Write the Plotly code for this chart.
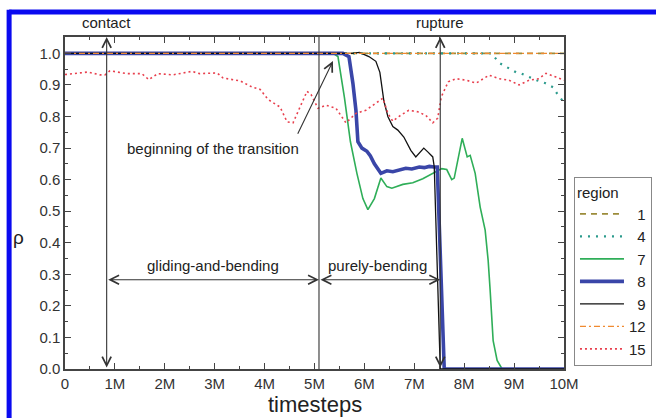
import plotly.graph_objects as go

# Timesteps in millions, order parameter rho per region
x_r1 = [0.0, 10.0]
rho_r1 = [1.0, 1.0]

x_r4 = [0.0, 8.55, 8.70, 8.88, 9.04, 9.13, 9.30, 9.45, 9.62, 9.78, 9.88, 9.96, 10.0]
rho_r4 = [1.0, 1.0, 0.970, 0.953, 0.940, 0.937, 0.925, 0.915, 0.906, 0.893, 0.868, 0.852, 0.845]

x_r7 = [0.0, 5.25, 5.37, 5.47, 5.60, 5.72, 5.85, 5.97, 6.07, 6.20, 6.33, 6.45, 6.55, 6.77,
        6.97, 7.17, 7.37, 7.55, 7.65, 7.75, 7.80, 7.96, 8.06, 8.12, 8.22, 8.32, 8.42, 8.48,
        8.52, 8.58, 8.66, 8.76, 10.0]
rho_r7 = [1.0, 1.0, 1.0, 0.99, 0.86, 0.72, 0.62, 0.54, 0.505, 0.54, 0.605, 0.578, 0.573, 0.585,
          0.59, 0.603, 0.62, 0.635, 0.632, 0.60, 0.605, 0.731, 0.672, 0.677, 0.62, 0.513, 0.44, 0.344,
          0.249, 0.09, 0.027, 0.0, 0.0]

x_r8 = [0.0, 5.50, 5.57, 5.69, 5.77, 5.83, 5.87, 5.95, 6.05, 6.12, 6.20, 6.33, 6.45, 6.57,
        6.70, 6.83, 6.95, 7.10, 7.20, 7.30, 7.40, 7.46, 7.60, 10.0]
rho_r8 = [1.0, 1.0, 1.0, 0.99, 0.905, 0.82, 0.72, 0.70, 0.69, 0.675, 0.65, 0.62, 0.628, 0.625,
          0.632, 0.636, 0.634, 0.640, 0.638, 0.642, 0.640, 0.640, 0.0, 0.0]

x_r9 = [0.0, 5.50, 5.75, 5.90, 6.09, 6.23, 6.31, 6.39, 6.47, 6.57, 6.67, 6.79, 6.93, 7.03,
        7.13, 7.19, 7.27, 7.37, 7.40, 7.52, 10.0]
rho_r9 = [1.0, 1.0, 1.0, 1.003, 0.99, 0.975, 0.94, 0.85, 0.80, 0.768, 0.757, 0.735, 0.693, 0.672,
          0.688, 0.70, 0.688, 0.672, 0.64, 0.0, 0.0]

x_r12 = [0.0, 10.0]
rho_r12 = [1.0, 1.0]

x_r15 = [0.0, 0.46, 0.70, 0.80, 0.90, 1.24, 1.54, 1.68, 1.86, 2.16, 2.54, 2.70, 3.05, 3.17,
         3.51, 3.74, 3.91, 4.07, 4.31, 4.45, 4.57, 4.71, 4.85, 4.93, 5.07, 5.23, 5.43, 5.63,
         5.83, 6.03, 6.23, 6.37, 6.47, 6.57, 6.69, 6.89, 7.07, 7.23, 7.37, 7.47, 7.54, 7.68,
         7.84, 8.04, 8.24, 8.50, 8.70, 8.90, 9.10, 9.30, 9.50, 9.64, 9.84, 10.0]
rho_r15 = [0.933, 0.941, 0.932, 0.932, 0.945, 0.936, 0.936, 0.917, 0.936, 0.932, 0.943, 0.936, 0.938, 0.922,
           0.913, 0.894, 0.886, 0.854, 0.830, 0.783, 0.780, 0.830, 0.880, 0.870, 0.826, 0.836, 0.826, 0.780,
           0.810, 0.820, 0.842, 0.858, 0.810, 0.785, 0.800, 0.820, 0.815, 0.804, 0.780, 0.795, 0.862, 0.910,
           0.920, 0.915, 0.906, 0.931, 0.920, 0.915, 0.900, 0.915, 0.920, 0.937, 0.925, 0.915]

# Tick labels
x_ticks = [0, 1, 2, 3, 4, 5, 6, 7, 8, 9, 10]
x_ticktext = ["0", "1M", "2M", "3M", "4M", "5M", "6M", "7M", "8M", "9M", "10M"]
y_ticks = [0.0, 0.1, 0.2, 0.3, 0.4, 0.5, 0.6, 0.7, 0.8, 0.9, 1.0]

# Event positions (millions of timesteps) and arrow level
t_contact = 0.835
t_transition = 5.09
t_rupture = 7.52
phase_arrow_rho = 0.283

FONT = "Arial, Liberation Sans, sans-serif"
FS = "\u2007"  # figure space, keeps legend numbers right-aligned

series = [
    ("1", x_r1, rho_r1, dict(color="#9c8c3a", width=1.6, dash="6px,5px")),
    ("4", x_r4, rho_r4, dict(color="#2a9a8c", width=2.2, dash="2px,6px")),
    ("7", x_r7, rho_r7, dict(color="#2fae58", width=1.6)),
    ("8", x_r8, rho_r8, dict(color="#3a46a8", width=3.6)),
    ("9", x_r9, rho_r9, dict(color="#111111", width=1.3)),
    ("12", x_r12, rho_r12, dict(color="#f08a30", width=1.4, dash="6px,3px,2px,3px")),
    ("15", x_r15, rho_r15, dict(color="#e8404e", width=1.6, dash="2px,3px")),
]

fig = go.Figure()
for name, xs, ys, line in series:
    label = (FS * (2 - len(name))) + name
    fig.add_trace(go.Scatter(x=xs, y=ys, mode="lines", name=label, line=line))

ARROW = "#333333"

def arrow(x0, y0, x1, y1, both=True):
    fig.add_annotation(
        x=x1, y=y1, ax=x0, ay=y0, xref="x", yref="y", axref="x", ayref="y",
        text="", showarrow=True, arrowhead=5, startarrowhead=5,
        arrowside="end+start" if both else "end",
        arrowsize=1.6, startarrowsize=1.6, arrowwidth=1.1, arrowcolor=ARROW,
    )

y_top = 1.052
arrow(t_contact, 0.0, t_contact, y_top)
arrow(t_rupture, 0.0, t_rupture, y_top)
arrow(t_contact, phase_arrow_rho, t_transition, phase_arrow_rho)
arrow(t_transition, phase_arrow_rho, t_rupture, phase_arrow_rho)
arrow(4.65, 0.741, 5.37, 0.976, both=False)

fig.add_shape(type="line", xref="x", yref="y", x0=t_transition, x1=t_transition,
              y0=0, y1=y_top, line=dict(color=ARROW, width=1.1))

def label(text, x, y, size=15, xref="x", yref="y"):
    fig.add_annotation(x=x, y=y, xref=xref, yref=yref, text=text, showarrow=False,
                       font=dict(family=FONT, size=size, color="#222222"),
                       xanchor="center", yanchor="middle")

label("contact", t_contact, 1.045, yref="paper")
label("rupture", t_rupture, 1.045, yref="paper")
label("beginning of the transition", 2.96, 0.70)
label("gliding-and-bending", 2.96, 0.328)
label("purely-bending", 6.27, 0.328)
label("timesteps", 0.5, -0.108, size=22, xref="paper", yref="paper")
label("ρ", -0.093, 0.395, size=19, xref="paper", yref="paper")

# Blue frame around the figure
BLUE = "#0a0af0"
fig.add_shape(type="line", xref="paper", yref="paper", x0=-0.112, x1=1.25,
              y0=1.075, y1=1.075, line=dict(color=BLUE, width=5))
fig.add_shape(type="line", xref="paper", yref="paper", x0=-0.112, x1=-0.112,
              y0=1.082, y1=-0.2, line=dict(color=BLUE, width=5))

axis_common = dict(
    showline=True, linecolor="#444444", linewidth=1.5, mirror="allticks",
    ticks="inside", tickcolor="#444444", ticklen=6, tickwidth=1.2,
    showgrid=False, zeroline=False,
    tickfont=dict(family=FONT, size=15, color="#333333"),
)

fig.update_xaxes(range=[0, 10], tickvals=x_ticks, ticktext=x_ticktext,
                 minor=dict(dtick=0.5, ticks="inside", ticklen=3, tickcolor="#444444", showgrid=False),
                 **axis_common)
fig.update_yaxes(range=[0, y_top], tickvals=y_ticks, tickformat=".1f",
                 minor=dict(dtick=0.05, ticks="inside", ticklen=3, tickcolor="#444444", showgrid=False),
                 **axis_common)

fig.update_layout(
    width=656, height=418,
    margin=dict(l=65, r=92, t=37, b=49, autoexpand=False),
    plot_bgcolor="white", paper_bgcolor="white",
    showlegend=True,
    legend=dict(
        title=dict(text="region", font=dict(family=FONT, size=15, color="#222222")),
        x=1.02, y=0.578, xanchor="left", yanchor="top",
        bordercolor="#888888", borderwidth=1, bgcolor="white",
        font=dict(family=FONT, size=15, color="#222222"),
        itemwidth=44, tracegroupgap=0,
    ),
)

fig.write_html("out.html")
